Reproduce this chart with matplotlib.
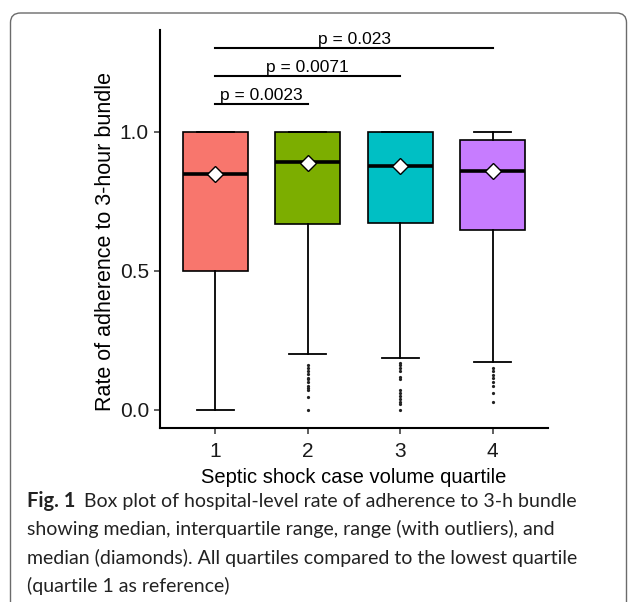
import numpy as np
import matplotlib
matplotlib.use("Agg")
import matplotlib.pyplot as plt
from matplotlib.patches import FancyBboxPatch

plt.rcParams['font.family'] = ['Liberation Sans', 'DejaVu Sans']

# ---------------- data ----------------
quartiles = ["1", "2", "3", "4"]
colors = ["#F8766D", "#7CAE00", "#00BFC4", "#C77CFF"]

whisker_lo = [0.0, 0.20, 0.186, 0.172]
box_q1 = [0.50, 0.667, 0.673, 0.648]
medians = [0.848, 0.890, 0.878, 0.860]
box_q3 = [1.0, 1.0, 1.0, 0.971]
whisker_hi = [1.0, 1.0, 1.0, 1.0]
means = [0.848, 0.888, 0.875, 0.860]

outliers = [
    [],
    [0.16, 0.15, 0.14, 0.13, 0.115, 0.11, 0.10, 0.085, 0.08, 0.07, 0.045, 0.0],
    [0.17, 0.16, 0.15, 0.14, 0.12, 0.11, 0.07, 0.06, 0.05, 0.04, 0.03, 0.02, 0.0],
    [0.15, 0.14, 0.125, 0.115, 0.10, 0.085, 0.06, 0.03],
]

# comparisons against quartile 1
comparisons = [(1, 2), (1, 3), (1, 4)]
bracket_y = [1.1, 1.2, 1.3]
p_labels = ["p = 0.0023", "p = 0.0071", "p = 0.023"]

caption_bold = "Fig. 1"
caption_lines = [
    "Box plot of hospital-level rate of adherence to 3-h bundle",
    "showing median, interquartile range, range (with outliers), and",
    "median (diamonds). All quartiles compared to the lowest quartile",
    "(quartile 1 as reference)",
]

# ---------------- figure ----------------
W, H = 629, 602
fig = plt.figure(figsize=(W / 100, H / 100), dpi=100)

# rounded frame around figure + caption
frame = FancyBboxPatch((10.5 / W, -20 / H), 616 / W, (H - 13 + 20) / H,
                       boxstyle="round,pad=0,rounding_size=0.016",
                       transform=fig.transFigure, fill=False,
                       edgecolor="#6b6b6b", linewidth=1.0)
fig.patches.append(frame)

ax = fig.add_axes([160 / W, 1 - 428.3 / H, 388 / W, (428.3 - 30) / H])

positions = np.arange(1, len(quartiles) + 1)
stats = []
for i in range(len(quartiles)):
    stats.append(dict(med=medians[i], q1=box_q1[i], q3=box_q3[i],
                      whislo=whisker_lo[i], whishi=whisker_hi[i],
                      fliers=outliers[i], mean=means[i]))

bp = ax.bxp(stats, positions=positions, widths=0.7, capwidths=0.4,
            patch_artist=True, showmeans=True,
            boxprops=dict(linewidth=1.2, edgecolor="black"),
            whiskerprops=dict(linewidth=1.3, color="black"),
            capprops=dict(linewidth=1.3, color="black"),
            medianprops=dict(linewidth=2.6, color="black", solid_capstyle="butt"),
            meanprops=dict(marker="D", markerfacecolor="white",
                           markeredgecolor="black", markersize=8.5,
                           markeredgewidth=1.0),
            flierprops=dict(marker="o", markersize=1.3, markerfacecolor="#222222",
                            markeredgecolor="#222222", linestyle="none"))
for patch, c in zip(bp["boxes"], colors):
    patch.set_facecolor(c)

# significance lines
for (a, b), y, lab in zip(comparisons, bracket_y, p_labels):
    ax.plot([a, b], [y, y], color="black", linewidth=1.5)
    ax.text((a + b) / 2, y + 0.004, lab, ha="center", va="bottom", fontsize=12.5)

ax.set_xlim(0.4, 4.6)
ax.set_ylim(-0.066, 1.365)
ax.set_xticks(positions)
ax.set_xticklabels(quartiles)
ax.set_yticks([0.0, 0.5, 1.0])
ax.set_yticklabels(["0.0", "0.5", "1.0"])
ax.tick_params(labelsize=15, length=4, width=1.1, color="#333333",
               labelcolor="#1a1a1a", pad=4)
ax.tick_params(axis="x", pad=6)

for s in ["top", "right"]:
    ax.spines[s].set_visible(False)
for s in ["left", "bottom"]:
    ax.spines[s].set_linewidth(1.5)

ax.set_xlabel("Septic shock case volume quartile", fontsize=14.5, labelpad=5)
ax.set_ylabel("Rate of adherence to 3-hour bundle", fontsize=15.5)
ax.yaxis.set_label_coords(-0.113, 0.468)

# caption
cap_font = ["Lato", "DejaVu Sans"]
cap_size = 14
x0, y0, dy = 27 / W, 1 - 501 / H, 28.3 / H
t = fig.text(x0, y0, caption_bold, fontsize=cap_size + 0.5, fontweight="bold",
             family=cap_font, va="center", color="#222222")
fig.canvas.draw()
bb = t.get_window_extent()
fig.text(bb.x1 / W + 9 / W, y0, caption_lines[0], fontsize=cap_size,
         family=cap_font, va="center", color="#222222")
for k, line in enumerate(caption_lines[1:], start=1):
    fig.text(x0, y0 - k * dy, line, fontsize=cap_size, family=cap_font,
             va="center", color="#222222")

fig.savefig("out.png", dpi=100)
